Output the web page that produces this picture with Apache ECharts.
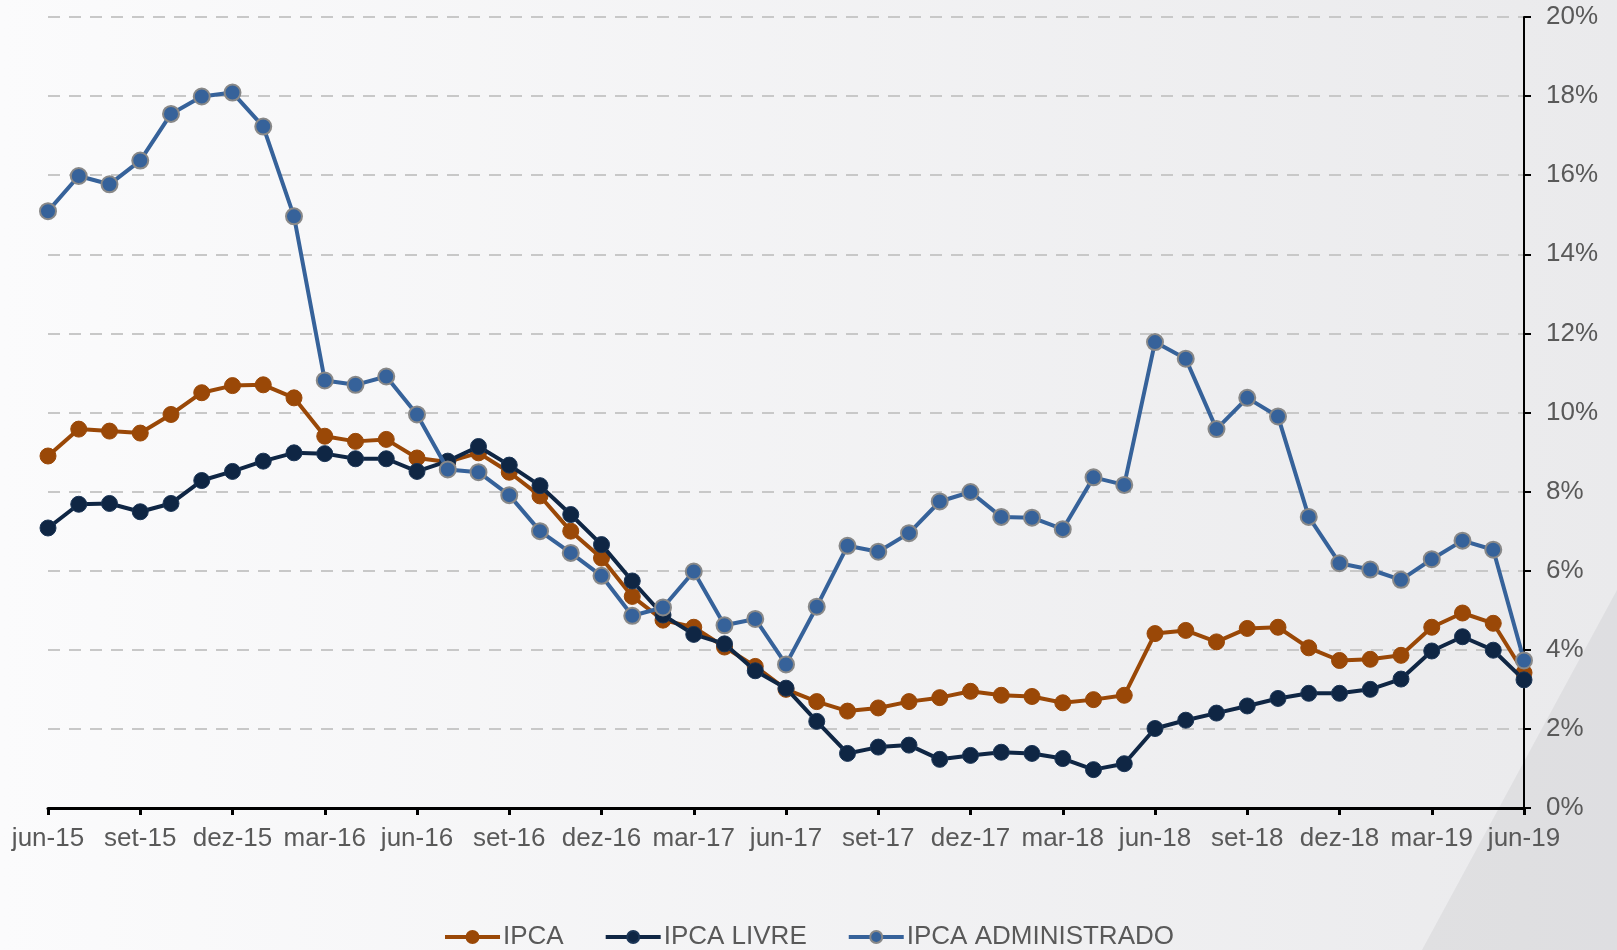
<!DOCTYPE html>
<html>
<head>
<meta charset="utf-8">
<script src="https://cdn.jsdelivr.net/npm/echarts@6/dist/echarts.min.js"></script>
<style>
  html, body { margin: 0; padding: 0; }
  #chart { width: 1617px; height: 950px; }
</style>
</head>
<body>
<div id="chart"></div>
<script>
// meses jun-15 .. jun-19
const months = ['jan', 'fev', 'mar', 'abr', 'mai', 'jun', 'jul', 'ago', 'set', 'out', 'nov', 'dez']
const categories = []
for (let y = 15; y <= 19; y++) {
  for (let m = 0; m < 12; m++) {
    if ((y === 15 && m < 5) || (y === 19 && m > 5)) continue
    categories.push(months[m] + '-' + y)
  }
}

const ipca = [
  8.90, 9.58, 9.53, 9.48, 9.95, 10.50, 10.68, 10.70, 10.37, 9.40, 9.27, 9.32,
  8.85, 8.75, 8.98, 8.49, 7.89, 7.00, 6.32, 5.35, 4.75, 4.57, 4.07, 3.58,
  3.00, 2.69, 2.45, 2.53, 2.69, 2.79, 2.95, 2.85, 2.82, 2.66, 2.74, 2.85,
  4.41, 4.49, 4.20, 4.54, 4.57, 4.05, 3.73, 3.76, 3.86, 4.57, 4.93, 4.67,
  3.42
]
const ipcaLivre = [
  7.08, 7.68, 7.70, 7.49, 7.70, 8.28, 8.51, 8.77, 8.98, 8.96, 8.83, 8.83,
  8.51, 8.77, 9.14, 8.67, 8.15, 7.42, 6.66, 5.74, 4.88, 4.39, 4.15, 3.47,
  3.03, 2.19, 1.38, 1.54, 1.59, 1.23, 1.33, 1.41, 1.38, 1.25, 0.97, 1.12,
  2.01, 2.22, 2.40, 2.58, 2.77, 2.90, 2.90, 3.00, 3.26, 3.97, 4.33, 3.99,
  3.24
]
const ipcaAdm = [
  15.09, 15.98, 15.77, 16.37, 17.55, 17.99, 18.09, 17.23, 14.96, 10.81, 10.70, 10.91,
  9.95, 8.56, 8.49, 7.91, 7.00, 6.45, 5.87, 4.86, 5.07, 5.98, 4.62, 4.78,
  3.63, 5.09, 6.63, 6.48, 6.95, 7.75, 7.99, 7.36, 7.34, 7.05, 8.36, 8.17,
  11.78, 11.36, 9.58, 10.37, 9.90, 7.36, 6.19, 6.03, 5.77, 6.29, 6.76, 6.53,
  3.73
]

const chartBox = echarts.init(document.getElementById('chart'))

const labelColor = '#595959'
const font = 'Liberation Sans, Arial, sans-serif'

const option = {
  animation: false,
  backgroundColor: new echarts.graphic.LinearGradient(0, 0, 1, 0, [
    { offset: 0, color: '#fbfbfc' },
    { offset: 1, color: '#eaeaec' }
  ]),
  graphic: [
    {
      type: 'polygon',
      silent: true,
      z: -10,
      shape: { points: [[1617, 590], [1617, 950], [1422, 950]] },
      style: { fill: 'rgba(195,195,200,0.3)' }
    }
  ],
  grid: {
    left: 48,
    right: 93,
    top: 17,
    bottom: 142
  },
  legend: {
    left: 'center',
    top: 919,
    itemWidth: 55,
    itemHeight: 15,
    itemGap: 40,
    lineStyle: { width: 4 },
    textStyle: { color: labelColor, fontSize: 26, fontFamily: font, padding: [0, 0, 0, -2] },
    data: ['IPCA', 'IPCA LIVRE', 'IPCA ADMINISTRADO']
  },
  xAxis: {
    type: 'category',
    boundaryGap: false,
    data: categories,
    axisLine: { lineStyle: { color: '#000', width: 3 } },
    axisTick: { interval: 2, length: 7, lineStyle: { color: '#000', width: 3 } },
    axisLabel: {
      interval: 2,
      color: labelColor,
      fontSize: 26,
      fontFamily: font,
      margin: 18
    },
    splitLine: { show: false }
  },
  yAxis: {
    type: 'value',
    position: 'right',
    min: 0,
    max: 20,
    interval: 2,
    axisLine: { show: true, lineStyle: { color: '#000', width: 2 } },
    axisTick: { show: true, length: 7, lineStyle: { color: '#000', width: 2 } },
    axisLabel: {
      color: labelColor,
      fontSize: 26,
      fontFamily: font,
      margin: 22,
      formatter: '{value}%'
    },
    splitLine: {
      show: true,
      lineStyle: { color: '#c8c8c8', width: 2, type: [12, 9] }
    }
  },
  series: [
    {
      name: 'IPCA',
      type: 'line',
      data: ipca,
      symbol: 'circle',
      symbolSize: 16,
      lineStyle: { color: '#9a4807', width: 4 },
      itemStyle: { color: '#9a4807', borderColor: '#9a4807', borderWidth: 1 },
      z: 3
    },
    {
      name: 'IPCA LIVRE',
      type: 'line',
      data: ipcaLivre,
      symbol: 'circle',
      symbolSize: 16,
      lineStyle: { color: '#0f2644', width: 4 },
      itemStyle: { color: '#0f2644', borderColor: '#1b3556', borderWidth: 1 },
      z: 4
    },
    {
      name: 'IPCA ADMINISTRADO',
      type: 'line',
      data: ipcaAdm,
      symbol: 'circle',
      symbolSize: 16,
      lineStyle: { color: '#36629a', width: 4 },
      itemStyle: { color: '#36629a', borderColor: '#888888', borderWidth: 2 },
      z: 5
    }
  ]
}

chartBox.setOption(option, true)
window.addEventListener('resize', function () {
  chartBox.resize()
})
</script>
</body>
</html>
